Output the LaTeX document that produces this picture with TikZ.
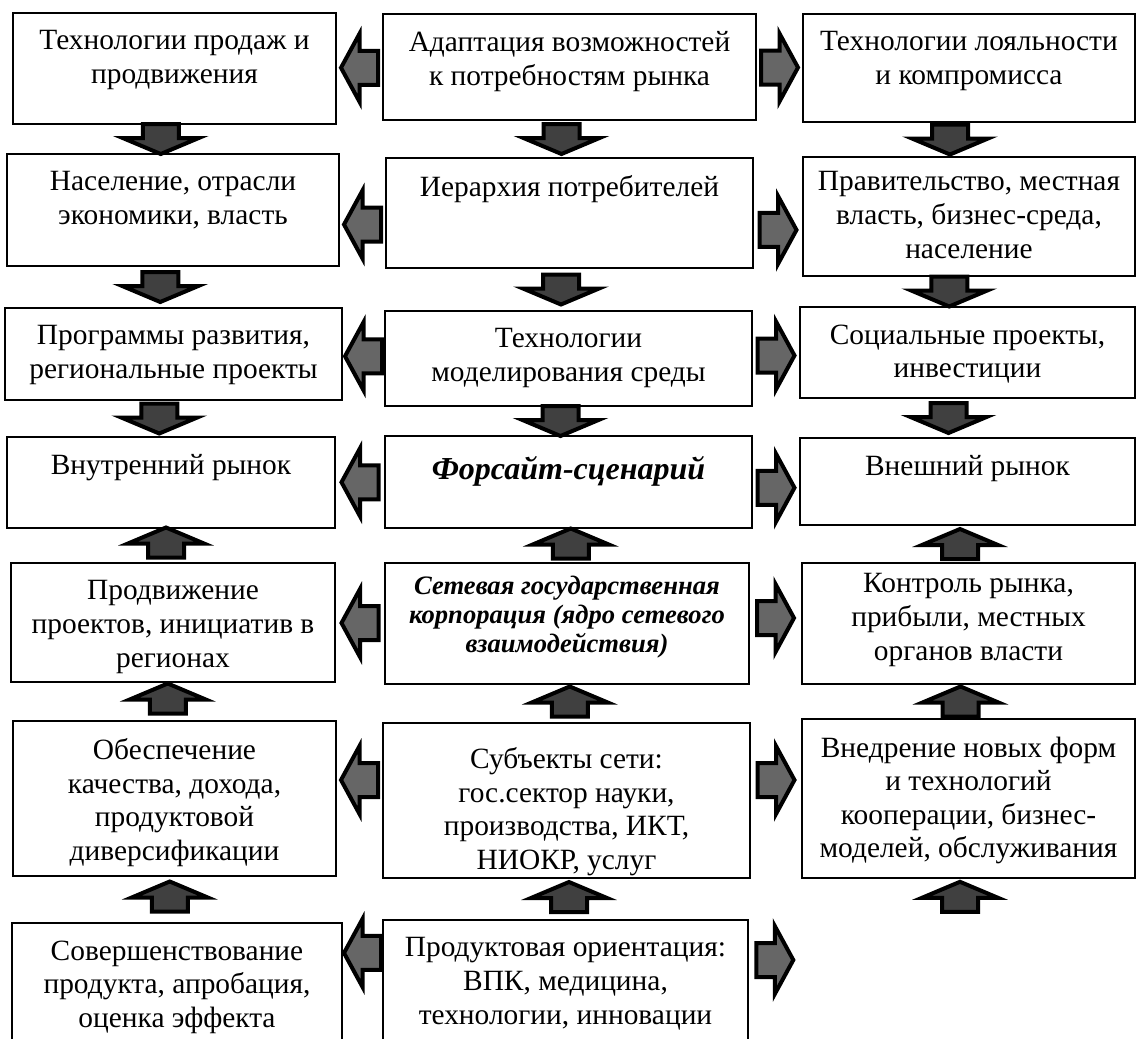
\documentclass[tikz,border=0pt]{standalone}
\usepackage{fontspec}
\setmainfont{Liberation Serif}
\usetikzlibrary{calc,fit}
\tikzset{
  cell/.style={draw, line width=0.8pt, inner sep=0pt},
  txt/.style={anchor=north, align=center, inner sep=0pt, font=\fontsize{14.7}{16.8}\selectfont},
  bi/.style={font=\fontsize{16}{18}\selectfont\bfseries\itshape},
  varrow/.style={draw, line width=2pt, fill=black!75},
  harrow/.style={draw, line width=2pt, fill=black!60},
  darr/.pic={\draw[varrow] (-18,-15) -- (18,-15) -- (18,-1) -- (38,-1) -- (0,15) -- (-38,-1) -- (-18,-1) -- cycle;},
  uarr/.pic={\draw[varrow] (-18,15) -- (18,15) -- (18,1) -- (38,1) -- (0,-15) -- (-38,1) -- (-18,1) -- cycle;},
  larr/.pic={\draw[harrow] (18.5,-17) -- (0,-17) -- (0,-34) -- (-18.5,0) -- (0,34) -- (0,17) -- (18.5,17) -- cycle;},
  rarr/.pic={\draw[harrow] (-18.5,-17) -- (0,-17) -- (0,-34) -- (18.5,0) -- (0,34) -- (0,17) -- (-18.5,17) -- cycle;}
}
\newcommand{\cell}[5][]{%
  \node[cell, fit={#3 #4}] (#2) {};
  \node[txt, #1] (#2t) at ([yshift=-9pt]#2.north) {#5};}

\begin{document}
\begin{tikzpicture}[x=0.5pt,y=-0.5pt]
\useasboundingbox (0,0) rectangle (1137,1039);
\cell{L1}{(13,13)}{(336,124)}{Технологии продаж и\\продвижения}
\cell{L2}{(7,154)}{(339,266)}{Население, отрасли\\экономики, власть}
\cell{L3}{(5,308)}{(342,400)}{Программы развития,\\региональные проекты}
\cell{L4}{(7,437)}{(335,528)}{Внутренний рынок}
\cell{L5}{(11,563)}{(335,682)}{Продвижение\\проектов, инициатив в\\регионах}
\cell{L6}{(13,721)}{(336,876)}{Обеспечение\\качества, дохода,\\продуктовой\\диверсификации}
\cell{L7}{(12,923)}{(342,1050)}{Совершенствование\\продукта, апробация,\\оценка эффекта}
\cell{M1}{(383,14)}{(756,120)}{Адаптация возможностей\\к потребностям рынка}
\cell{M2}{(386,158)}{(753,268)}{Иерархия потребителей}
\cell{M3}{(385,311)}{(752,406)}{Технологии\\моделирования среды}
\cell[bi,yshift=-1.5pt]{M4}{(385,436)}{(752,528)}{Форсайт-сценарий}
\cell[font=\fontsize{13.3}{14.5}\selectfont\bfseries\itshape,yshift=2.5pt]{M5}{(385,563)}{(749,684)}{Сетевая государственная\\корпорация (ядро сетевого\\взаимодействия)}
\cell[yshift=-3.5pt]{M6}{(383,723)}{(750,878)}{Субъекты сети:\\гос.сектор науки,\\производства, ИКТ,\\НИОКР, услуг}
\cell{M7}{(383,920)}{(748,1050)}{Продуктовая ориентация:\\ВПК, медицина,\\технологии, инновации}
\cell{R1}{(803,14)}{(1135,122)}{Технологии лояльности\\и компромисса}
\cell[yshift=1.5pt]{R2}{(803,157)}{(1135,276)}{Правительство, местная\\власть, бизнес-среда,\\население}
\cell{R3}{(800,307)}{(1135,398)}{Социальные проекты,\\инвестиции}
\cell{R4}{(800,438)}{(1135,525)}{Внешний рынок}
\cell[yshift=3.5pt]{R5}{(802,563)}{(1135,684)}{Контроль рынка,\\прибыли, местных\\органов власти}
\cell{R6}{(802,719)}{(1135,878)}{Внедрение новых форм\\и технологий\\кооперации, бизнес-\\моделей, обслуживания}

\pic[xshift=-6.5pt] at ($(L1.south)!.5!(L2.north)$) {darr};
\pic[xshift=-6.5pt] at ($(L2.south)!.5!(L3.north)$) {darr};
\pic[xshift=-6.5pt] at ($(L3.south)!.5!(L4.north)$) {darr};
\pic[xshift=-4pt] at ($(M1.south)!.5!(M2.north)$) {darr};
\pic[xshift=-4pt] at ($(M2.south)!.5!(M3.north)$) {darr};
\pic[xshift=-4pt] at ($(M3.south)!.5!(M4.north)$) {darr};
\pic[xshift=-9.5pt] at ($(R1.south)!.5!(R2.north)$) {darr};
\pic[xshift=-9.5pt] at ($(R2.south)!.5!(R3.north)$) {darr};
\pic[xshift=-9.5pt] at ($(R3.south)!.5!(R4.north)$) {darr};
\pic[xshift=-3pt,yshift=1.5pt] at ($(L4.south)!.5!(L5.north)$) {uarr};
\pic[xshift=-3pt,yshift=1.5pt] at ($(L5.south)!.5!(L6.north)$) {uarr};
\pic[xshift=-3pt,yshift=1.5pt] at ($(L6.south)!.5!(L7.north)$) {uarr};
\pic[xshift=1.5pt,yshift=1pt] at ($(M4.south)!.5!(M5.north)$) {uarr};
\pic[xshift=1.5pt,yshift=1pt] at ($(M5.south)!.5!(M6.north)$) {uarr};
\pic[xshift=1.5pt,yshift=1pt] at ($(M6.south)!.5!(M7.north)$) {uarr};
\pic[xshift=-4pt] at ($(R4.south)!.5!(R5.north)$) {uarr};
\pic[xshift=-4pt] at ($(R5.south)!.5!(R6.north)$) {uarr};
\pic[xshift=-4.25pt,yshift=-9pt] at (R6.south) {uarr};

\pic at ($(L1.east)!.5!(M1.west)$) {larr};
\pic[yshift=-6.5pt] at ($(L2.east)!.5!(M2.west)$) {larr};
\pic at ($(L3.east)!.5!(M3.west)$) {larr};
\pic at ($(L4.east)!.5!(M4.west)$) {larr};
\pic at ($(L5.east)!.5!(M5.west)$) {larr};
\pic[yshift=9.75pt] at ($(L6.east)!.5!(M6.west)$) {larr};
\pic[yshift=16.4pt] at ($(L7.east)!.5!(M7.west)$) {larr};
\pic at ($(M1.east)!.5!(R1.west)$) {rarr};
\pic[yshift=-7.6pt] at ($(M2.east)!.5!(R2.west)$) {rarr};
\pic at ($(M3.east)!.5!(R3.west)$) {rarr};
\pic[yshift=-3pt] at ($(M4.east)!.5!(R4.west)$) {rarr};
\pic[yshift=2.75pt] at ($(M5.east)!.5!(R5.west)$) {rarr};
\pic[yshift=9.75pt] at ($(M6.east)!.5!(R6.west)$) {rarr};
\pic[xshift=13pt,yshift=12.5pt] at (M7.east) {rarr};
\end{tikzpicture}
\end{document}
